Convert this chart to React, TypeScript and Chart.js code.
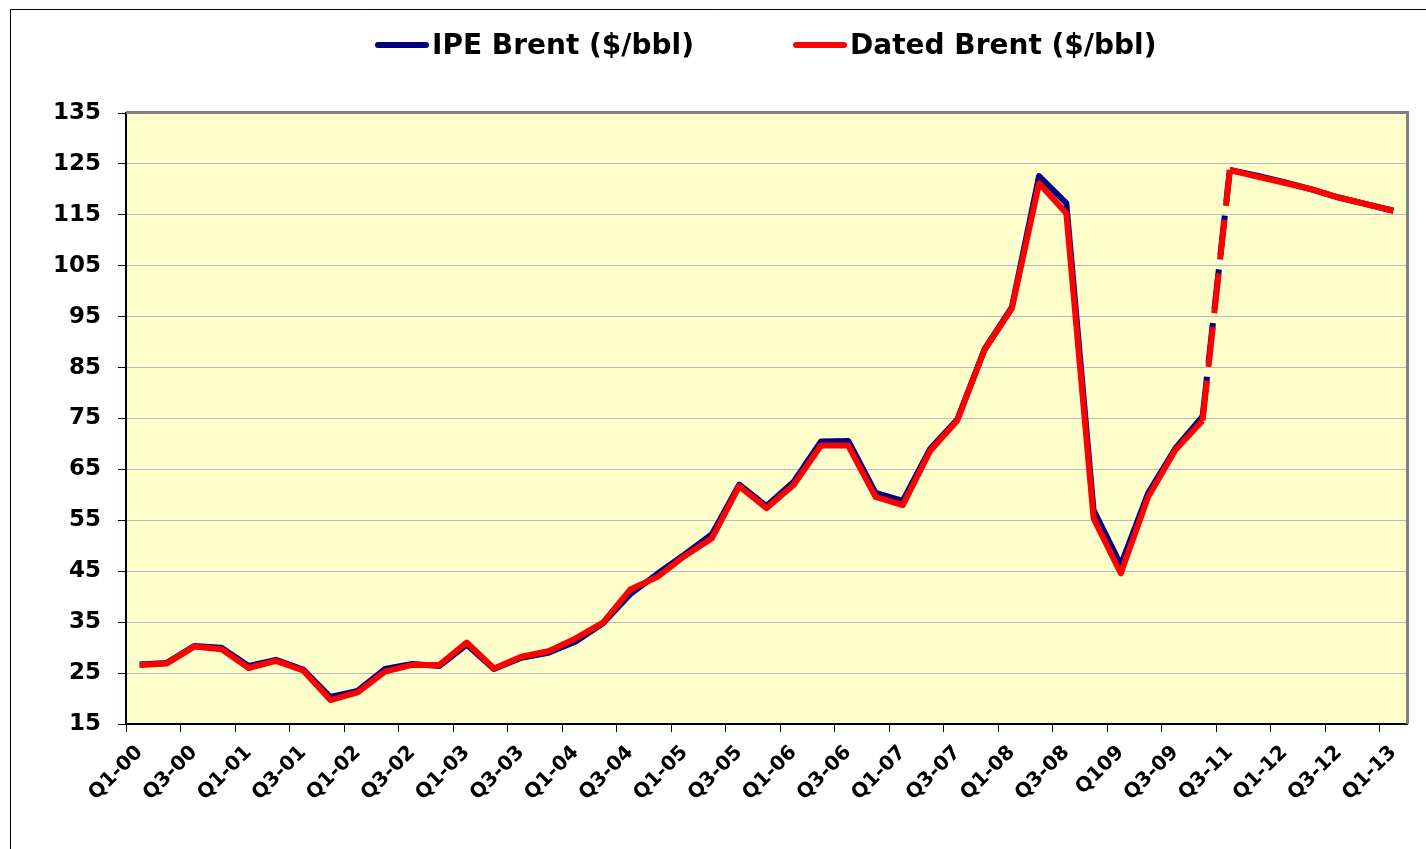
import React, { useEffect, useRef } from 'react';
import { Chart, registerables } from 'chart.js';

Chart.register(...registerables);

// Category axis: quarters (labels shown on every second quarter)
const quarters = [
  'Q1-00', 'Q2-00', 'Q3-00', 'Q4-00',
  'Q1-01', 'Q2-01', 'Q3-01', 'Q4-01',
  'Q1-02', 'Q2-02', 'Q3-02', 'Q4-02',
  'Q1-03', 'Q2-03', 'Q3-03', 'Q4-03',
  'Q1-04', 'Q2-04', 'Q3-04', 'Q4-04',
  'Q1-05', 'Q2-05', 'Q3-05', 'Q4-05',
  'Q1-06', 'Q2-06', 'Q3-06', 'Q4-06',
  'Q1-07', 'Q2-07', 'Q3-07', 'Q4-07',
  'Q1-08', 'Q2-08', 'Q3-08', 'Q4-08',
  'Q109', 'Q2-09', 'Q3-09', 'Q4-09',
  'Q3-11', 'Q4-11', 'Q1-12', 'Q2-12', 'Q3-12', 'Q4-12', 'Q1-13',
];

// IPE Brent ($/bbl)
const ipeBrent = [
  26.7, 27.0, 30.3, 30.0,
  26.4, 27.6, 25.7, 20.3,
  21.5, 25.8, 26.8, 26.4,
  30.6, 25.8, 28.0, 29.0,
  31.2, 34.8, 40.5, 44.5,
  48.3, 52.3, 62.0, 57.8,
  62.6, 70.5, 70.6, 60.4,
  58.8, 69.0, 74.8, 88.6,
  96.8, 122.6, 117.3, 57.0,
  46.2, 60.3, 69.1, 75.4,
  123.8, 122.7, 121.4, 120.0, 118.4, 117.1, 115.8,
];

// Dated Brent ($/bbl)
const datedBrent = [
  26.6, 26.9, 30.2, 29.7,
  26.0, 27.4, 25.5, 19.7,
  21.2, 25.3, 26.6, 26.6,
  31.0, 25.9, 28.2, 29.3,
  31.8, 34.9, 41.4, 43.9,
  48.0, 51.5, 61.7, 57.4,
  62.0, 69.7, 69.7, 59.6,
  58.0, 68.6, 74.6, 88.5,
  96.6, 121.2, 115.3, 55.4,
  44.6, 59.6, 68.8, 74.6,
  123.8, 122.5, 121.3, 120.0, 118.4, 117.1, 115.8,
];

const seriesLabels = ['IPE Brent ($/bbl)', 'Dated Brent ($/bbl)'];
const yMin = 15;
const yMax = 135;
const yStep = 10;
// the segment that jumps over the missing period is dashed
const gapStartIndex = 39;

const FONT = '"DejaVu Sans", Verdana, sans-serif';

const framePlugin = {
  id: 'frame',
  beforeDraw(chart: any) {
    const { ctx, chartArea, width, height } = chart;
    ctx.save();
    ctx.fillStyle = '#ffffff';
    ctx.fillRect(0, 0, width, height);
    ctx.fillStyle = '#ffffcc';
    ctx.fillRect(chartArea.left, chartArea.top, chartArea.right - chartArea.left, chartArea.bottom - chartArea.top);
    ctx.restore();
  },
  beforeDatasetsDraw(chart: any) {
    const { ctx, chartArea } = chart;
    ctx.save();
    ctx.strokeStyle = '#808080';
    ctx.lineWidth = 3;
    ctx.beginPath();
    ctx.moveTo(chartArea.left, chartArea.top - 0.5);
    ctx.lineTo(chartArea.right + 0.5, chartArea.top - 0.5);
    ctx.lineTo(chartArea.right + 0.5, chartArea.bottom);
    ctx.stroke();
    ctx.restore();
  },
  afterDraw(chart: any) {
    const { ctx, width, height } = chart;
    ctx.save();
    ctx.strokeStyle = '#000000';
    ctx.lineWidth = 1;
    ctx.beginPath();
    ctx.moveTo(width, 9.5);
    ctx.lineTo(10.5, 9.5);
    ctx.lineTo(10.5, height);
    ctx.stroke();
    ctx.restore();
  },
};

const legendPlugin = {
  id: 'lineLegend',
  afterDraw(chart: any) {
    const { ctx } = chart;
    ctx.save();
    ctx.font = `bold 28px ${FONT}`;
    ctx.textBaseline = 'middle';
    ctx.textAlign = 'left';
    let x = 375;
    const y = 46;
    const datasets = [...chart.data.datasets].sort((a: any, b: any) => a.legendOrder - b.legendOrder);
    datasets.forEach((ds: any) => {
      ctx.strokeStyle = ds.borderColor;
      ctx.lineWidth = 6;
      ctx.lineCap = 'round';
      ctx.beginPath();
      ctx.moveTo(x + 3, y - 1);
      ctx.lineTo(x + 51, y - 1);
      ctx.stroke();
      ctx.fillStyle = '#000000';
      ctx.fillText(ds.label, x + 57, y + 1);
      x += 57 + ctx.measureText(ds.label).width + 99;
    });
    ctx.restore();
  },
};

export default function App() {
  const canvasRef = useRef<HTMLCanvasElement | null>(null);

  useEffect(() => {
    if (!canvasRef.current) return;
    const dash = (ctx: any) => (ctx.p0DataIndex === gapStartIndex ? [40, 14] : undefined);
    const chart = new Chart(canvasRef.current, {
      type: 'line',
      data: {
        labels: quarters,
        datasets: [
          {
            label: seriesLabels[0],
            data: ipeBrent,
            borderColor: '#000080',
            backgroundColor: '#000080',
            borderWidth: 6,
            pointRadius: 0,
            pointHoverRadius: 0,
            tension: 0,
            borderJoinStyle: 'round',
            borderCapStyle: 'butt',
            fill: false,
            order: 2,
            legendOrder: 0,
            segment: { borderDash: dash },
          } as any,
          {
            label: seriesLabels[1],
            data: datedBrent,
            borderColor: '#ff0000',
            backgroundColor: '#ff0000',
            borderWidth: 6,
            pointRadius: 0,
            pointHoverRadius: 0,
            tension: 0,
            borderJoinStyle: 'round',
            borderCapStyle: 'butt',
            fill: false,
            order: 1,
            legendOrder: 1,
            segment: { borderDash: dash },
          } as any,
        ],
      },
      options: {
        responsive: false,
        animation: false,
        devicePixelRatio: 1,
        layout: { padding: { top: 113, right: 19, left: 0, bottom: 0 } },
        plugins: {
          legend: { display: false },
          tooltip: { enabled: false },
        },
        scales: {
          x: {
            type: 'category',
            offset: true,
            afterFit: (scale: any) => {
              scale.height = 125;
            },
            grid: {
              offset: true,
              drawOnChartArea: false,
              drawTicks: true,
              tickLength: 8,
              color: (c: any) => (c.index % 2 === 0 ? '#000000' : 'rgba(0,0,0,0)'),
              tickColor: (c: any) => (c.index % 2 === 0 ? '#000000' : 'rgba(0,0,0,0)'),
              lineWidth: 1,
            },
            border: { display: true, color: '#000000', width: 2 },
            ticks: {
              autoSkip: false,
              minRotation: 45,
              maxRotation: 45,
              padding: 9,
              color: '#000000',
              font: { family: FONT, size: 20, weight: 'bold' },
              callback: (_v: any, i: number) => (i % 2 === 0 ? quarters[i] : ''),
            },
          },
          y: {
            type: 'linear',
            min: yMin,
            max: yMax,
            afterFit: (scale: any) => {
              scale.width = 126;
            },
            grid: {
              color: '#b9b9c6',
              lineWidth: 1,
              tickColor: '#000000',
              tickLength: 8,
              drawTicks: true,
            },
            border: { display: true, color: '#000000', width: 2 },
            ticks: {
              stepSize: yStep,
              padding: 17,
              color: '#000000',
              font: { family: FONT, size: 23, weight: 'bold' },
            },
          },
        },
      },
      plugins: [framePlugin, legendPlugin],
    });
    return () => chart.destroy();
  }, []);

  return (
    <div style={{ position: 'fixed', left: 0, top: 0, width: 1426, height: 849, background: '#ffffff' }}>
      <canvas ref={canvasRef} width={1426} height={849} style={{ display: 'block' }} />
    </div>
  );
}
